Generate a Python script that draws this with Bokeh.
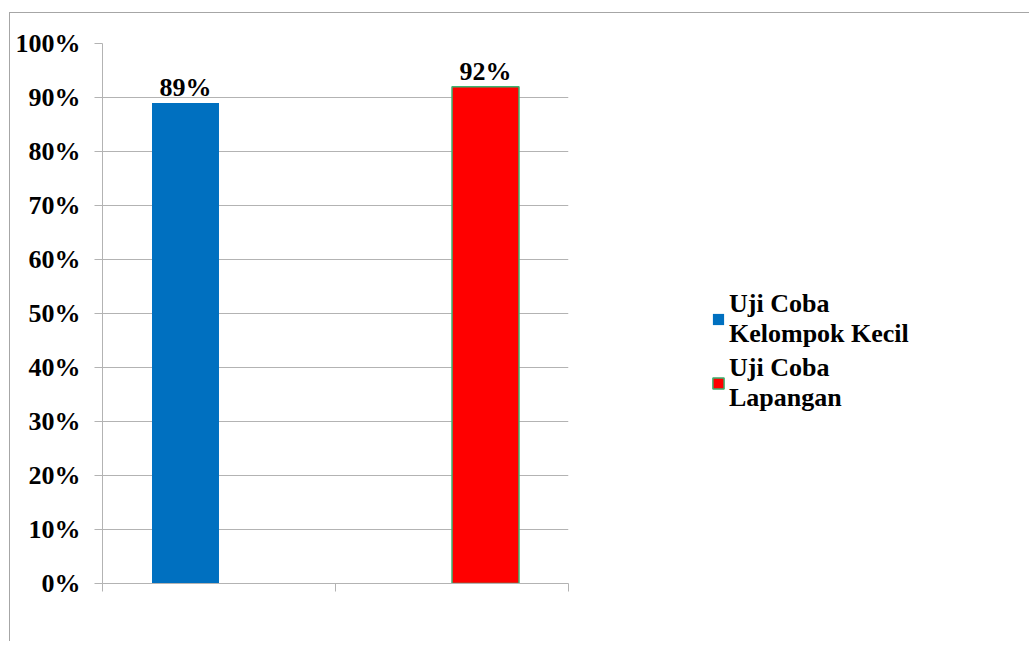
import numpy as np
from bokeh.plotting import figure
from bokeh.models import (ColumnDataSource, FixedTicker, NumeralTickFormatter,
                          Legend, LegendItem, Range1d, LabelSet)
from bokeh.transform import dodge
from bokeh.core.properties import value
from bokeh.embed import file_html
from bokeh.resources import INLINE

# ---- data ----
categories = ["", ""]
series_names = ["Uji Coba\nKelompok Kecil", "Uji Coba\nLapangan"]
kelompok_kecil = [0.89, np.nan]
lapangan = [np.nan, 0.92]
y_ticks = [0.0, 0.1, 0.2, 0.3, 0.4, 0.5, 0.6, 0.7, 0.8, 0.9, 1.0]

FONT = "Liberation Serif"
GRID = "#b3b3b3"
BLUE = "#0070C0"
RED = "#FF0000"
GREEN_EDGE = "#3CB371"

n = len(categories)
centers = np.arange(n) + 0.5
src = ColumnDataSource(dict(
    x=centers,
    kk=kelompok_kecil,
    lp=lapangan,
    kk_lbl=["" if np.isnan(v) else f"{v:.0%}" for v in kelompok_kecil],
    lp_lbl=["" if np.isnan(v) else f"{v:.0%}" for v in lapangan],
))

p = figure(output_backend="svg", toolbar_location=None,
           frame_width=466, frame_height=540,
           min_border_left=92, min_border_right=453,
           min_border_top=30, min_border_bottom=58,
           x_range=Range1d(0, n), y_range=Range1d(0, 1))
p.styles = {"border-left": "1px solid #a6a6a6", "border-top": "1px solid #a6a6a6",
            "margin-top": "12px", "margin-left": "9px"}
p.outline_line_color = None
p.background_fill_color = "white"
p.border_fill_color = "white"

bw = 0.2875
off = 0.1438
r1 = p.vbar(x=dodge("x", -off, range=p.x_range), top="kk", width=bw, source=src,
            fill_color=BLUE, line_color=None)
r2 = p.vbar(x=dodge("x", off, range=p.x_range), top="lp", width=bw, source=src,
            fill_color=RED, line_color=GREEN_EDGE, line_width=1.5)

for col, sign in (("kk", -1), ("lp", 1)):
    ls = LabelSet(x=dodge("x", sign * off, range=p.x_range), y=col, text=col + "_lbl",
                  source=src, text_align="center", text_baseline="alphabetic",
                  y_offset=7, text_font=value(FONT), text_font_style="bold",
                  text_font_size="26px", text_color="black")
    p.add_layout(ls)

# axes
p.xaxis.ticker = FixedTicker(ticks=list(range(n + 1)))
p.xaxis.major_label_overrides = {i: " " for i in range(n + 1)}
p.xaxis.major_label_text_font_size = "10px"
p.xaxis.major_tick_out = 8
p.xaxis.major_tick_in = 0
p.xaxis.minor_tick_line_color = None
p.xaxis.axis_line_color = GRID
p.xaxis.major_tick_line_color = GRID
p.xgrid.grid_line_color = None

p.yaxis.ticker = FixedTicker(ticks=y_ticks)
p.yaxis.formatter = NumeralTickFormatter(format="0%")
p.yaxis.major_tick_out = 8
p.yaxis.major_tick_in = 0
p.yaxis.minor_tick_line_color = None
p.yaxis.axis_line_color = GRID
p.yaxis.major_tick_line_color = GRID
p.yaxis.major_label_text_font = FONT
p.yaxis.major_label_text_font_style = "bold"
p.yaxis.major_label_text_font_size = "26px"
p.yaxis.major_label_text_color = "black"
p.yaxis.major_label_standoff = 14
p.ygrid.ticker = FixedTicker(ticks=y_ticks)
p.ygrid.grid_line_color = GRID

legend = Legend(items=[LegendItem(label=series_names[0], renderers=[r1]),
                       LegendItem(label=series_names[1], renderers=[r2])],
                location=(143, 170), orientation="vertical")
legend.label_text_font = FONT
legend.label_text_font_style = "bold"
legend.label_text_font_size = "26px"
legend.label_text_color = "black"
legend.label_text_line_height = 1.2
legend.glyph_width = 14
legend.glyph_height = 14
legend.label_standoff = 4
legend.spacing = 4
legend.padding = 0
legend.margin = 0
legend.border_line_color = None
legend.background_fill_alpha = 0
p.add_layout(legend, "right")

open("out.html", "w").write(file_html(p, INLINE))
